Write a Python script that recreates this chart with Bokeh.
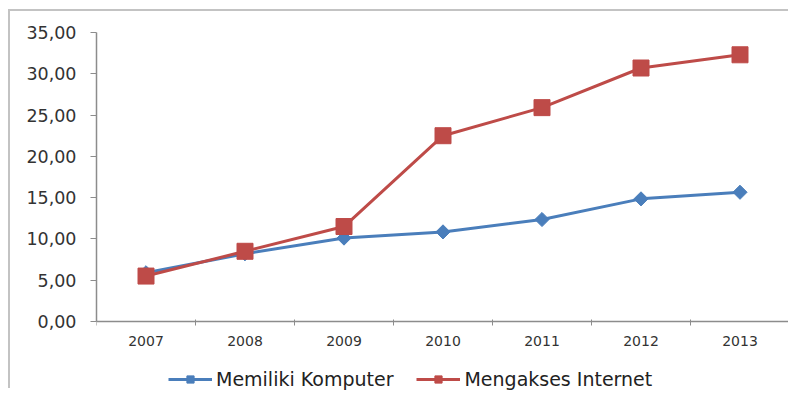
import math
from bokeh.plotting import figure
from bokeh.models import FixedTicker, Legend, LegendItem, Range1d
from bokeh.embed import file_html
from bokeh.resources import INLINE

years = ["2007", "2008", "2009", "2010", "2011", "2012", "2013"]
komputer = [5.90, 8.20, 10.10, 10.85, 12.35, 14.85, 15.65]
internet = [5.50, 8.50, 11.50, 22.50, 25.90, 30.70, 32.30]
y_ticks = [0, 5, 10, 15, 20, 25, 30, 35]
y_tick_labels = ["0,00", "5,00", "10,00", "15,00", "20,00", "25,00", "30,00", "35,00"]

BLUE = "#4a7ebb"
RED = "#be4b48"
FONT = "DejaVu Sans"

xs = [i + 0.5 for i in range(len(years))]

p = figure(width=780, height=379, output_backend="svg", toolbar_location=None,
           x_range=Range1d(0, len(years)), y_range=Range1d(-8.36, 35),
           min_border_left=86, min_border_right=1, min_border_top=21, min_border_bottom=0)
p.styles = {"border-top": "2px solid #c3c3c3", "border-left": "2px solid #c3c3c3",
            "margin-left": "8px", "margin-top": "9px"}
p.outline_line_color = None
p.xgrid.visible = False
p.ygrid.visible = False
p.background_fill_color = "white"
p.border_fill_color = "white"

l1 = p.line(xs, komputer, line_color=BLUE, line_width=3)
s1 = p.scatter(xs, komputer, marker="square", angle=math.pi / 4, size=10,
               fill_color=BLUE, line_color=BLUE)
l2 = p.line(xs, internet, line_color=RED, line_width=3)
s2 = p.scatter(xs, internet, marker="square", size=16, fill_color=RED, line_color=RED)

xa = p.xaxis[0]
xa.fixed_location = 0
xa.ticker = FixedTicker(ticks=xs, minor_ticks=list(range(len(years) + 1)))
xa.major_label_overrides = {x: y for x, y in zip(xs, years)}
xa.major_tick_out = 0
xa.major_tick_in = 0
xa.minor_tick_out = 4
xa.minor_tick_in = 2
xa.minor_tick_line_color = "#8c8c8c"
xa.axis_line_color = "#8c8c8c"
xa.axis_line_width = 1.5
xa.major_label_text_font = FONT
xa.major_label_text_font_size = "14px"
xa.major_label_text_color = "#333333"
xa.major_label_standoff = 11

ya = p.yaxis[0]
ya.bounds = (0, 35)
ya.ticker = FixedTicker(ticks=y_ticks, minor_ticks=[])
ya.major_label_overrides = {t: s for t, s in zip(y_ticks, y_tick_labels)}
ya.major_tick_out = 6
ya.major_tick_in = 0
ya.major_tick_line_color = "#8c8c8c"
ya.axis_line_color = "#8c8c8c"
ya.axis_line_width = 1.5
ya.major_label_text_font = FONT
ya.major_label_text_font_size = "17.5px"
ya.major_label_text_color = "#333333"
ya.major_label_standoff = 14

legend = Legend(items=[LegendItem(label="Memiliki Komputer", renderers=[l1, s1]),
                       LegendItem(label="Mengakses Internet", renderers=[l2, s2])],
                orientation="horizontal", location=(72, 0),
                label_text_font=FONT, label_text_font_size="19px", label_text_color="#222222",
                glyph_width=44, glyph_height=18, label_standoff=4, spacing=23,
                border_line_color=None, background_fill_alpha=0, margin=0, padding=2)
p.add_layout(legend, "center")

open("out.html", "w").write(file_html(p, INLINE))
